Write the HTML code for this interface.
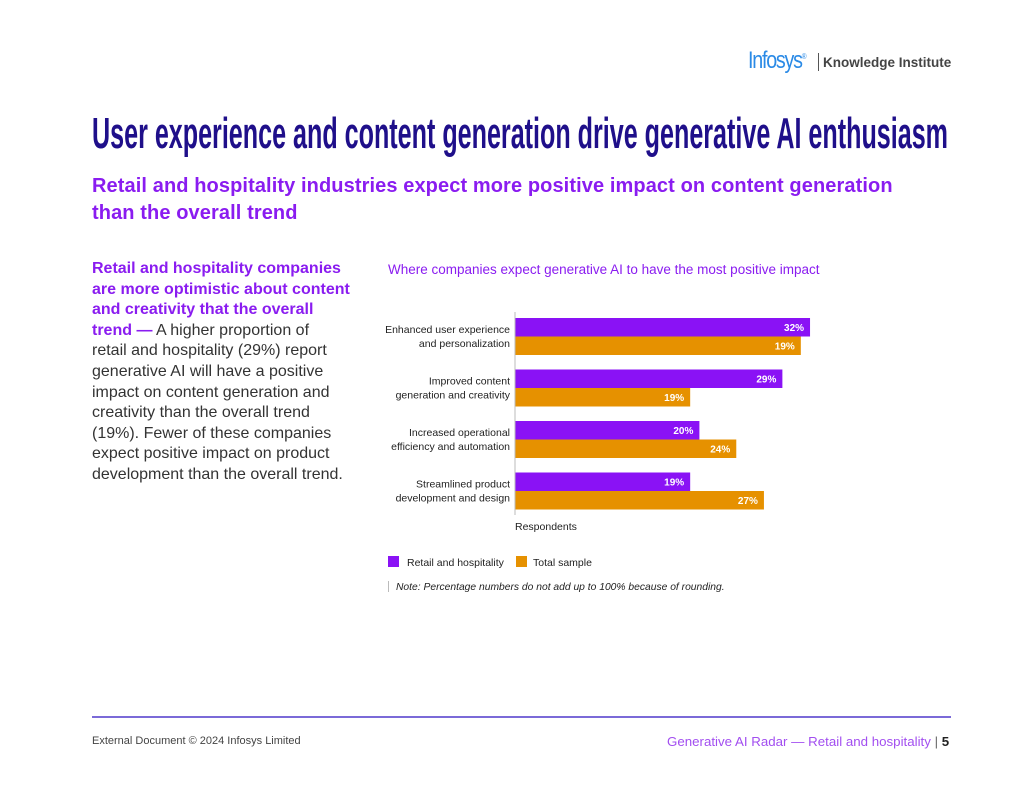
<!DOCTYPE html>
<html><head><meta charset="utf-8"><style>
body{margin:0;width:1024px;height:791px;background:#fff;position:relative;overflow:hidden;font-family:"Liberation Sans",sans-serif}
.a{position:absolute;white-space:nowrap}
.left div{height:20.6px;line-height:20.6px}
</style></head><body>
<div class="a" style="left:748px;top:47px;font-size:24px;color:#2a8ae6;letter-spacing:-1.5px;transform:scaleX(0.82);transform-origin:left">Infosys<sup style="font-size:8px">®</sup></div>
<div class="a" style="left:818px;top:53px;width:1px;height:18px;background:#555"></div>
<div class="a" style="left:823px;top:55px;font-size:13.5px;font-weight:bold;color:#444">Knowledge Institute</div>
<svg class="a" style="left:0;top:100px" width="1024" height="60"><text x="92" y="48" font-family="Liberation Sans Narrow, Liberation Sans, sans-serif" font-weight="bold" font-size="44" fill="#1f0f8a" textLength="856" lengthAdjust="spacingAndGlyphs">User experience and content generation drive generative AI enthusiasm</text></svg>
<div class="a" style="left:92px;top:173px;font-size:20px;font-weight:bold;color:#8a1cf0;line-height:27px;letter-spacing:0.1px">Retail and hospitality industries expect more positive impact on content generation<br>than the overall trend</div>
<div class="a left" style="left:92px;top:259px;font-size:16px;color:#333">
<div style="color:#8a1cf0;font-weight:bold">Retail and hospitality companies</div>
<div style="color:#8a1cf0;font-weight:bold">are more optimistic about content</div>
<div style="color:#8a1cf0;font-weight:bold">and creativity that the overall</div>
<div><b style="color:#8a1cf0">trend —</b> A higher proportion of</div>
<div>retail and hospitality (29%) report</div>
<div>generative AI will have a positive</div>
<div>impact on content generation and</div>
<div>creativity than the overall trend</div>
<div>(19%). Fewer of these companies</div>
<div>expect positive impact on product</div>
<div>development than the overall trend.</div>
</div>
<div class="a" style="left:388px;top:262px;font-size:13.5px;color:#8a1cf0">Where companies expect generative AI to have the most positive impact</div>
<svg id="chart" class="a" style="left:0;top:0" width="1024" height="791"></svg>
<div class="a" style="left:92px;top:716px;width:859px;height:2px;background:#7b6ad8"></div>
<div class="a" style="left:92px;top:735px;font-size:11px;color:#444">External Document © 2024 Infosys Limited</div>
<div class="a" style="left:667px;top:734px;font-size:13.3px;color:#a24ef0">Generative AI Radar — Retail and hospitality <span style="color:#666">|</span> <b style="color:#222">5</b></div>
<script>
const categories=[["Enhanced user experience","and personalization"],["Improved content","generation and creativity"],["Increased operational","efficiency and automation"],["Streamlined product","development and design"]];
const retailValues=[32,29,20,19];
const totalValues=[31,19,24,27];
const retailLabels=["32%","29%","20%","19%"];
const totalLabels=["19%","19%","24%","27%"];
const NS="http://www.w3.org/2000/svg";
const svg=document.getElementById('chart');
const x0=515,perPct=9.22,groupTop=318,groupStep=51.5,barH=18.5;
const xs=v=>x0+v*perPct;
function el(t,a,txt){const e=document.createElementNS(NS,t);for(const k in a)e.setAttribute(k,a[k]);if(txt)e.textContent=txt;svg.appendChild(e);return e;}
categories.forEach((c,i)=>{
 const y=groupTop+i*groupStep;
 const r=el('rect',{x:x0,y:y,width:xs(retailValues[i])-x0,height:barH,fill:'#8a12f5'});
 
 
 const t=el('rect',{x:x0,y:y+barH,width:xs(totalValues[i])-x0,height:barH,fill:'#e69100'});
 
 
 const l1=el('text',{x:xs(retailValues[i])-6,y:y+13,'text-anchor':'end','font-size':'10','font-weight':'bold',fill:'#fff'},retailLabels[i]);
 
 
 const l2=el('text',{x:xs(totalValues[i])-6,y:y+barH+13,'text-anchor':'end','font-size':'10','font-weight':'bold',fill:'#fff'},totalLabels[i]);
 
 
 const c1=el('text',{x:510,y:y+15,'text-anchor':'end','font-size':'10.5',fill:'#222'},c[0]);
 
 
 el('text',{x:510,y:y+29,'text-anchor':'end','font-size':'10.5',fill:'#222'},c[1]);
});
const ax=el('line',{x1:x0,y1:312,x2:x0,y2:515,stroke:'#bbb','stroke-width':1});


const xt=el('text',{x:515,y:530,'font-size':'10.5',fill:'#222'},'Respondents');


const lg1=el('rect',{x:388,y:556,width:11,height:11,fill:'#8a12f5'});


el('text',{x:407,y:566,'font-size':'10.5',fill:'#222'},'Retail and hospitality');
const lg2=el('rect',{x:516,y:556,width:11,height:11,fill:'#e69100'});


el('text',{x:533,y:566,'font-size':'10.5',fill:'#222'},'Total sample');
el('line',{x1:388.5,y1:581,x2:388.5,y2:592,stroke:'#bbb'});
const nt=el('text',{x:396,y:590,'font-size':'10.3','font-style':'italic',fill:'#222'},'Note: Percentage numbers do not add up to 100% because of rounding.');


</script>
</body></html>
